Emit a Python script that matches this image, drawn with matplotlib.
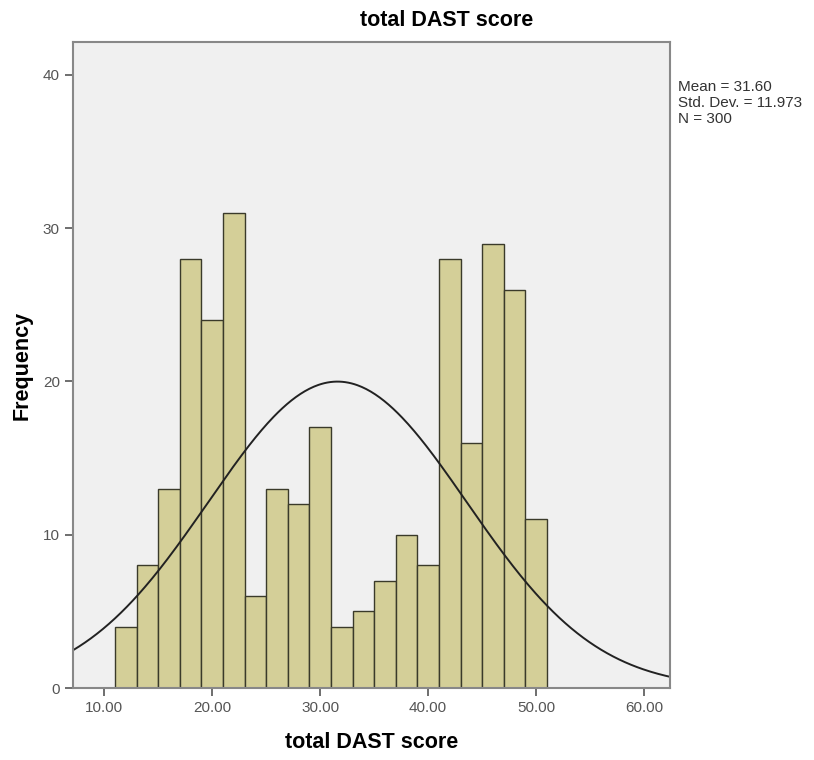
import numpy as np
import matplotlib
matplotlib.use("Agg")
import matplotlib.pyplot as plt

# ---- data ----
bin_edges = [11, 13, 15, 17, 19, 21, 23, 25, 27, 29, 31, 33, 35, 37, 39, 41, 43, 45, 47, 49, 51]
counts = [4, 8, 13, 28, 24, 31, 6, 13, 12, 17, 4, 5, 7, 10, 8, 28, 16, 29, 26, 11]
mean = 31.60
std = 11.973
n = 300
x_ticks = [10, 20, 30, 40, 50, 60]
x_tick_labels = ["10.00", "20.00", "30.00", "40.00", "50.00", "60.00"]
y_ticks = [0, 10, 20, 30, 40]
title = "total DAST score"
xlabel = "total DAST score"
ylabel = "Frequency"

plt.rcParams['font.family'] = ["Liberation Sans", "DejaVu Sans"]

fig = plt.figure(figsize=(8.14, 7.6), dpi=100)
ax = fig.add_axes([73/814, 1-688/760, (670-73)/814, (688-42)/760])
ax.set_facecolor("#f0f0f0")

widths = np.diff(bin_edges)
ax.bar(bin_edges[:-1], counts, width=widths, align="edge",
       color="#d4cf98", edgecolor="#3a3a2a", linewidth=1.0)

xs = np.linspace(7.1, 62.4, 400)
binw = bin_edges[1] - bin_edges[0]
ys = n * binw / (std * np.sqrt(2*np.pi)) * np.exp(-0.5*((xs-mean)/std)**2)
ax.plot(xs, ys, color="#222222", linewidth=1.4)

ax.set_xlim(7.1, 62.4)
ax.set_ylim(0, 42.15)
ax.set_xticks(x_ticks)
ax.set_xticklabels(x_tick_labels)
ax.set_yticks(y_ticks)
for s in ax.spines.values():
    s.set_color("#888888")
    s.set_linewidth(1.5)
ax.tick_params(axis="both", direction="out", length=6, width=1.2, color="#555555",
               labelsize=11, labelcolor="#555555")

ax.set_xlabel(xlabel, fontsize=15.5, fontweight="bold", labelpad=12)
ax.set_ylabel(ylabel, fontsize=15.5, fontweight="bold", labelpad=7)
fig.text(447/814, 1-20/760, title, ha="center", va="center", fontsize=15.5,
         fontweight="bold")

fig.text(678/814, 1-80/760,
         f"Mean = {mean:.2f}\nStd. Dev. = {std:.3f}\nN = {n}",
         ha="left", va="top", fontsize=11, color="#333333", linespacing=1.2)

fig.savefig("out.png", dpi=100)
